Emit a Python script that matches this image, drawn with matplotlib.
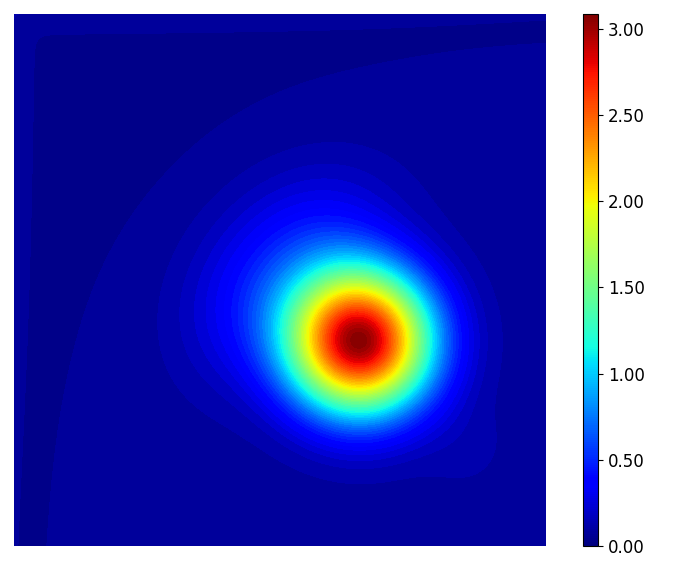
import numpy as np
import matplotlib
matplotlib.use("Agg")
import matplotlib.pyplot as plt
from matplotlib.cm import ScalarMappable
from matplotlib.colors import Normalize

# values (unit square, y up)
peak_value = 3.087
peak_xy = [0.650, 0.385]
core_coefs = [0.5, 50.0, 200.0]        # ln(peak/u) = b*r + a*r^2 + c*r^4
halo_angles = [100.0, 125.0, 150.0, 175.0]   # degrees from the peak
halo_amp, halo_radius, halo_width = 0.16, 0.21, 0.09
bump_amp, bump_xy, bump_width = 0.04, [0.845, 0.19], 0.06
# background in units of one contour step
bg_low, bg_rise, bg_q = 0.4, 1.1, 0.06
edge_amp = [0.75, 0.7]
edge_width = [0.02, 0.025]
cbar_ticks = [0.0, 0.5, 1.0, 1.5, 2.0, 2.5, 3.0]
n_levels = 60

step = peak_value / n_levels
n = 500
xs = np.linspace(0, 1, n)
X, Y = np.meshgrid(xs, xs)

# background: lowest band in the upper left, thin strips on left/top edges
u_, v_ = X, 1 - Y
q = u_ * v_ * (1 - 1.44 * u_ * v_ / np.maximum((u_ + v_) ** 2, 1e-9))
h = bg_low + bg_rise * np.tanh(0.6 * q / bg_q)
eL = (edge_amp[0] + edge_amp[1] * Y) * np.exp(-u_ / (edge_width[0] + edge_width[1] * Y))
eT = (edge_amp[0] + edge_amp[1] * (1 - X)) * np.exp(-v_ / (edge_width[1] + 0.02 * (1 - X)))
h = h + (eL ** 4 + eT ** 4) ** 0.25
bg = step * h

# halo toward the upper left: a chain of small humps round the peak
halo = np.zeros_like(X)
for ang in np.radians(halo_angles):
    cx = peak_xy[0] + halo_radius * np.cos(ang)
    cy = peak_xy[1] + halo_radius * np.sin(ang)
    halo += halo_amp * np.exp(-((X - cx) ** 2 + (Y - cy) ** 2) / (2 * halo_width ** 2))

bump = bump_amp * np.exp(-((X - bump_xy[0]) ** 2 + (Y - bump_xy[1]) ** 2) / (2 * bump_width ** 2))

r = np.hypot(X - peak_xy[0], Y - peak_xy[1])
rest = bg + halo + bump
i0 = np.unravel_index(np.argmin(r), r.shape)
core_amp = peak_value - rest[i0]
b, a, c = core_coefs
core = core_amp * np.exp(-(b * r + a * r ** 2 + c * r ** 4))
U = core + rest

vmax = U.max()
levels = np.linspace(0, vmax, n_levels + 1)

fig = plt.figure(figsize=(6.81, 5.72), dpi=100)
ax = fig.add_axes([14 / 681, 26 / 572, 532 / 681, 532 / 572])
ax.contourf(X, Y, U, levels=levels, cmap="jet")
ax.set_xlim(0, 1)
ax.set_ylim(0, 1)
ax.axis("off")

cax = fig.add_axes([583 / 681, 26 / 572, 15 / 681, 532 / 572])
sm = ScalarMappable(norm=Normalize(0, vmax), cmap="jet")
cb = fig.colorbar(sm, cax=cax, ticks=cbar_ticks, format="%.2f")
cb.ax.tick_params(labelsize=12)

fig.savefig("out.png", dpi=100)
